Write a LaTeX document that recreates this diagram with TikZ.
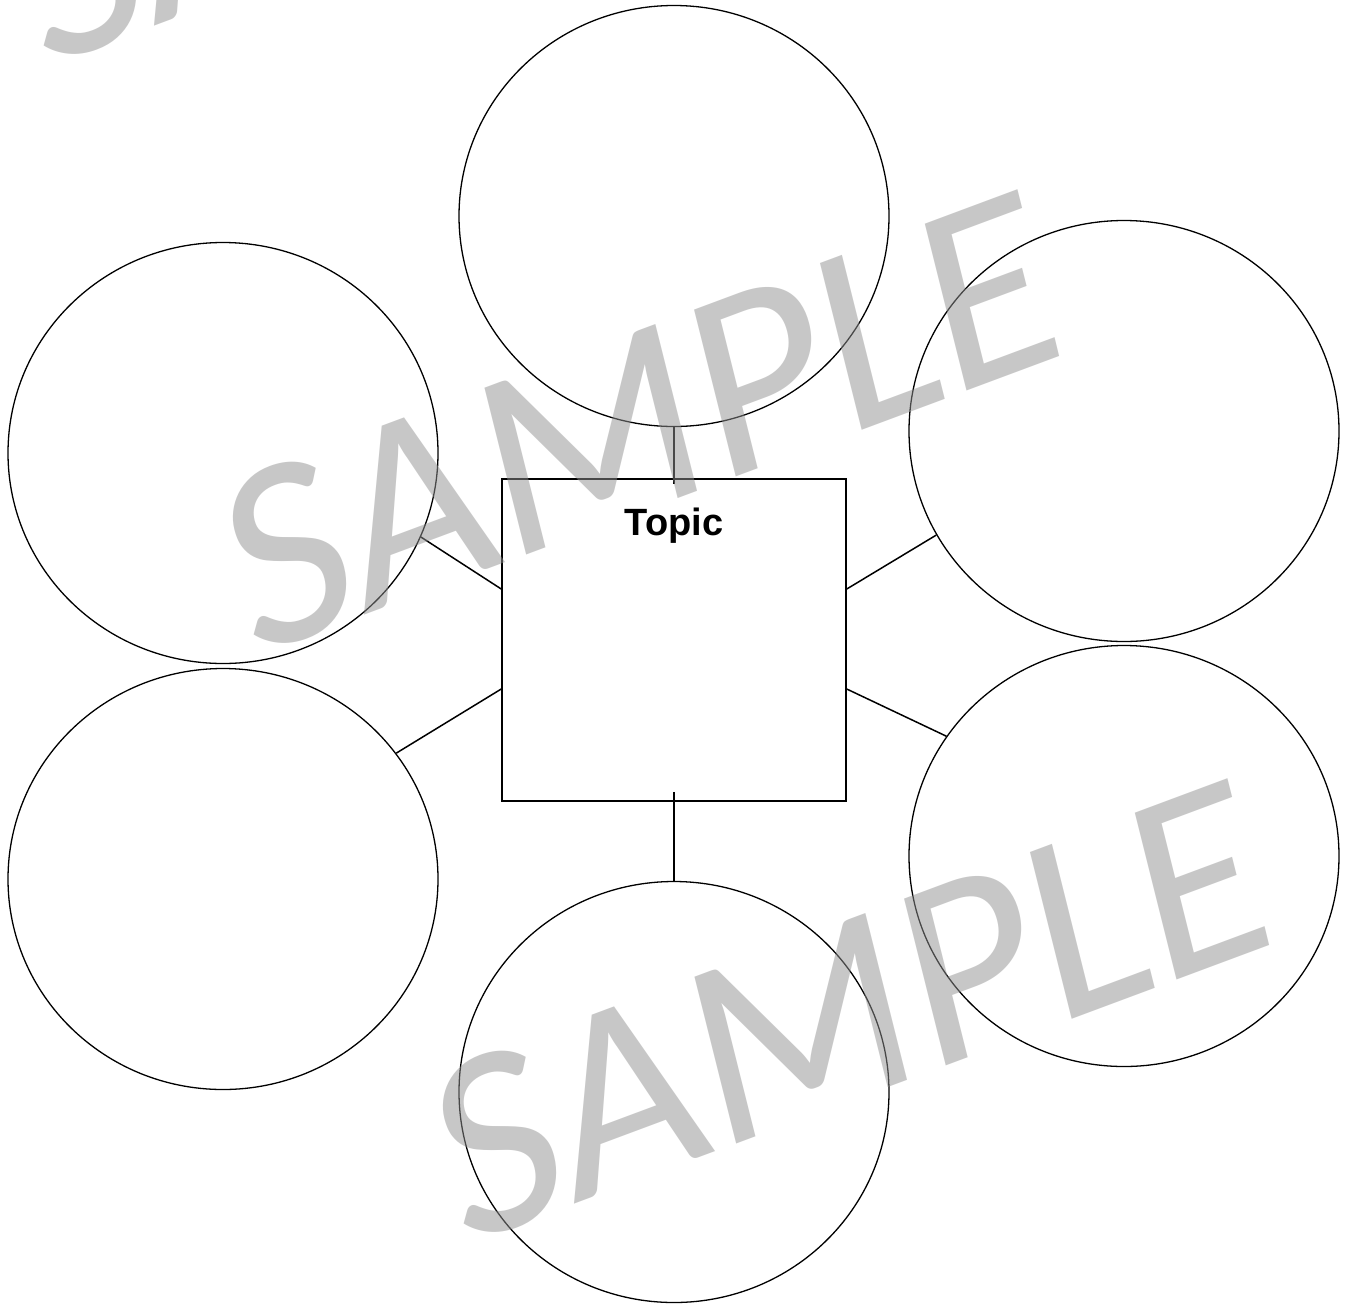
\documentclass[tikz,border=0pt]{standalone}
\usepackage{fontspec}
\usetikzlibrary{shapes.geometric}
\newfontfamily\arialfont{Liberation Sans}
\newfontfamily\wmfont{Carlito}
\definecolor{wmgray}{RGB}{145,145,145}
\begin{document}
\begin{tikzpicture}[x=1pt,y=-1pt,
  bubble/.style={draw=black, line width=1.3pt, ellipse, minimum width=430pt, minimum height=421pt, inner sep=0pt},
  topicbox/.style={draw=black, line width=1.5pt, rectangle, minimum width=344pt, minimum height=322pt, inner sep=0pt},
  link/.style={draw=black, line width=1.5pt},
  watermark/.style={anchor=base west, inner sep=0pt, cm={0.95,0.354,-0.25,1,(0,0)}, text=wmgray, text opacity=0.5, font=\wmfont\fontsize{260}{260}\selectfont}]
\useasboundingbox (0,0) rectangle (1348,1304);
\clip (0,0) rectangle (1348,1304);
\fill[white] (0,0) rectangle (1348,1304);
% bubbles
\node[bubble] (c1) at (674,216) {};
\node[bubble] (c2) at (223,453) {};
\node[bubble] (c3) at (1124,431) {};
\node[bubble] (c4) at (1124,856) {};
\node[bubble] (c5) at (223,879) {};
\node[bubble] (c6) at (674,1092) {};
% centre box
\node[topicbox] (sq) at (674,640) {};
\node[anchor=base, inner sep=0pt, font=\arialfont\bfseries\fontsize{38}{40}\selectfont] (topic) at (674,535) {Topic};
% connectors
\draw[link] (c1.south) -- ([yshift=-6pt]sq.north);
\draw[link] ([yshift=10pt]sq.south) -- (c6.north);
\draw[link] (c2.-23.6) -- ([yshift=51pt]sq.west);
\draw[link] (c5.36.4) -- ([yshift=-49pt]sq.west);
\draw[link] (c3.-151.2) -- ([yshift=51pt]sq.east);
\draw[link] (c4.146.5) -- ([yshift=-49pt]sq.east);
% watermarks
\node[watermark] (wm0) at (42,68.6) {SAMPLE};
\node[watermark] (wm1) at (252,657.6) {SAMPLE};
\node[watermark] (wm2) at (462,1246.6) {SAMPLE};
\end{tikzpicture}
\end{document}
